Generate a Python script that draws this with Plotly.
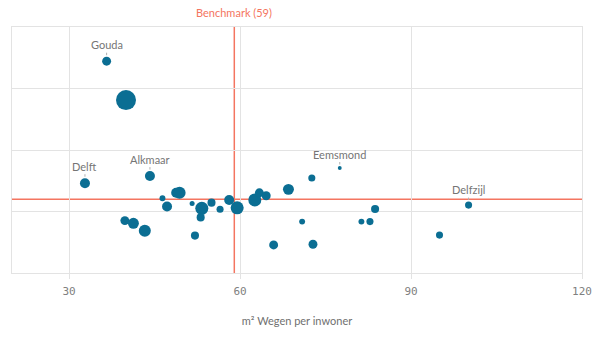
import plotly.graph_objects as go

# --- data ---
gemeente = ["Gouda", "G2", "Delft", "Alkmaar", "G5", "G6", "G7a", "G7b", "G8", "G9", "G10",
            "G12", "G13", "G14", "G15", "G16", "G17", "G18", "G19", "G20", "G21", "G22",
            "G23", "G24", "G25", "G26", "Eemsmond", "G28", "G29", "G30", "G31",
            "Delfzijl", "G34"]
wegen_per_inwoner = [36.6, 40.0, 32.8, 44.2, 46.4, 47.2, 48.8, 49.4, 39.8, 41.3, 43.3,
                     51.6, 53.3, 55.0, 56.5, 53.1, 52.1, 58.1, 59.5, 62.6, 63.4, 64.6,
                     68.5, 65.9, 70.9, 72.6, 77.5, 83.7, 81.3, 82.8, 72.8,
                     100.1, 95.0]
y_waarde = [86.1, 70.3, 36.5, 39.4, 30.4, 27.0, 32.6, 32.6, 21.3, 20.2, 17.2,
            28.3, 26.3, 28.6, 25.9, 22.6, 15.2, 29.7, 26.5, 29.7, 32.6, 31.4,
            34.0, 11.4, 20.9, 38.6, 42.7, 26.0, 20.9, 20.9, 11.7,
            27.6, 15.4]
inwoners_k = [32, 160, 40, 40, 14, 40, 40, 58, 32, 48, 58,
              10, 68, 26, 20, 26, 26, 40, 68, 68, 32, 32,
              48, 32, 14, 20, 6, 26, 14, 20, 32,
              20, 20]
labelled = ["Gouda", "Delft", "Alkmaar", "Eemsmond", "Delfzijl"]
benchmark_x = 59
benchmark_y = 30
x_ticks = [30, 60, 90, 120]

RED = "#f47560"
BLUE = "#0b6e93"
GRID = "#e3e3e3"

max_d = 20
sizeref = 2 * max(inwoners_k) / (max_d ** 2)

fig = go.Figure()
fig.add_trace(go.Scatter(
    x=wegen_per_inwoner, y=y_waarde, mode="markers",
    text=gemeente,
    marker=dict(size=inwoners_k, sizemode="area", sizeref=sizeref,
                color=BLUE, line=dict(width=0), opacity=1),
    hoverinfo="text", showlegend=False,
))

fig.add_shape(type="line", xref="x", yref="paper", x0=benchmark_x, x1=benchmark_x,
              y0=0, y1=1, line=dict(color=RED, width=1.5), layer="below")
fig.add_shape(type="line", xref="paper", yref="y", x0=0, x1=1,
              y0=benchmark_y, y1=benchmark_y, line=dict(color=RED, width=1.5), layer="below")

fig.add_annotation(x=benchmark_x, y=1, xref="x", yref="paper", yanchor="middle", yshift=15,
                   text="Benchmark (59)", showarrow=False,
                   font=dict(family="Lato, Open Sans, sans-serif", size=11, color=RED))

for name in labelled:
    i = gemeente.index(name)
    r = (inwoners_k[i] / (2 * sizeref)) ** 0.5
    fig.add_annotation(x=wegen_per_inwoner[i], y=y_waarde[i], xref="x", yref="y",
                       text=name, showarrow=True, arrowhead=0, arrowwidth=1,
                       arrowcolor="#b0b0b0", ax=0, ay=-(r + 12), standoff=r + 1.5,
                       font=dict(family="Lato, Open Sans, sans-serif", size=11, color="#757575"))

fig.update_layout(
    width=606, height=362,
    margin=dict(l=12, r=24, t=27, b=89),
    plot_bgcolor="white", paper_bgcolor="white",
    hovermode=False,
    xaxis=dict(range=[20, 120], tickvals=x_ticks, showgrid=True, gridcolor=GRID, gridwidth=1,
               zeroline=False, showline=True, linecolor=GRID, mirror=True,
               ticks="outside", ticklen=5, tickcolor=GRID, ticklabelstandoff=3,
               tickfont=dict(family="DejaVu Sans Mono", size=11, color="#808080"),
               title=dict(text="m² Wegen per inwoner", standoff=20,
                          font=dict(family="Lato, Open Sans, sans-serif", size=11, color="#707070"))),
    yaxis=dict(range=[0, 100], dtick=25, showgrid=True, gridcolor=GRID, gridwidth=1,
               zeroline=False, showline=True, linecolor=GRID, mirror=True,
               showticklabels=False, ticks=""),
)

fig.write_html("out.html", config={"displayModeBar": False},
               post_script="document.body.style.margin='0';document.body.style.overflow='hidden';")
